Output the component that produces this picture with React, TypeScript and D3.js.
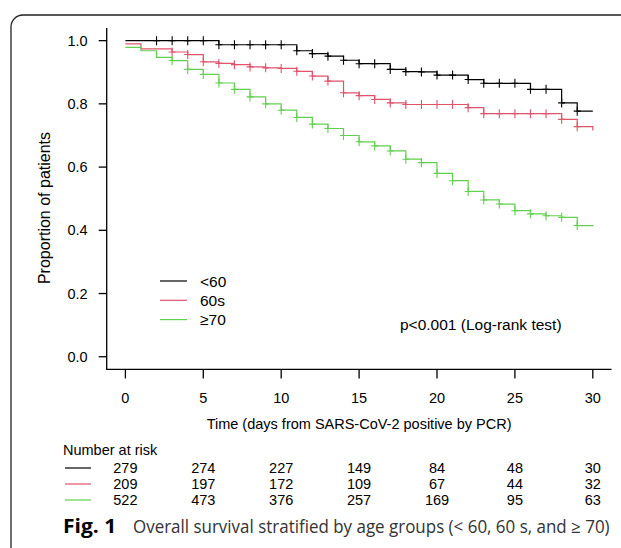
import React, { useLayoutEffect, useRef, useState } from "react";
import * as d3 from "d3";

const W = 621;
const H = 548;

// time points (days) and survival estimates
const days = [0, 1, 2, 3, 4, 5, 6, 7, 8, 9, 10, 11, 12, 13, 14, 15, 16, 17, 18, 19, 20, 21, 22, 23, 24, 25, 26, 27, 28, 29, 30];
const survUnder60 = [1.0, 1.0, 1.0, 1.0, 1.0, 1.0, 0.987, 0.987, 0.987, 0.987, 0.987, 0.968, 0.959, 0.951, 0.938, 0.927, 0.927, 0.909, 0.902, 0.901, 0.891, 0.891, 0.877, 0.865, 0.865, 0.865, 0.846, 0.846, 0.803, 0.777, 0.777];
const surv60s = [0.99, 0.974, 0.974, 0.964, 0.956, 0.933, 0.928, 0.924, 0.917, 0.914, 0.912, 0.903, 0.888, 0.872, 0.835, 0.826, 0.814, 0.803, 0.798, 0.798, 0.798, 0.798, 0.788, 0.769, 0.769, 0.769, 0.769, 0.769, 0.751, 0.728, 0.716];
const surv70 = [0.979, 0.968, 0.947, 0.937, 0.909, 0.893, 0.866, 0.846, 0.822, 0.8, 0.78, 0.757, 0.736, 0.722, 0.7, 0.68, 0.667, 0.651, 0.625, 0.614, 0.58, 0.557, 0.523, 0.496, 0.483, 0.462, 0.452, 0.446, 0.441, 0.415, 0.413];

// censoring marks (days)
const censUnder60 = [2, 3, 4, 5, 6, 7, 8, 9, 10, 11, 12, 13, 14, 15, 16, 17, 18, 19, 20, 21, 22, 23, 24, 25, 26, 27, 28, 29];
const cens60s = [3, 4, 5, 6, 7, 8, 9, 10, 11, 12, 13, 14, 15, 16, 17, 18, 19, 20, 21, 22, 23, 24, 25, 26, 27, 28, 29];
const cens70 = [3, 4, 5, 6, 7, 8, 9, 10, 11, 12, 13, 14, 15, 16, 17, 18, 19, 20, 21, 22, 23, 24, 25, 26, 27, 28, 29];

const groupNames = ["<60", "60s", "≥70"];
const groupColors = ["#000000", "#DF536B", "#61D04F"];

const xTicks = [0, 5, 10, 15, 20, 25, 30];
const yTicks = [0, 0.2, 0.4, 0.6, 0.8, 1.0];

const riskUnder60 = [279, 274, 227, 149, 84, 48, 30];
const risk60s = [209, 197, 172, 109, 67, 44, 32];
const risk70 = [522, 473, 376, 257, 169, 95, 63];

const font = "'Liberation Sans', Arial, sans-serif";
const capFont = "'Open Sans', 'Noto Sans', sans-serif";

const x = d3.scaleLinear().domain([-1.2, 31.2]).range([106.7, 611.5]);
const y = d3.scaleLinear().domain([-0.04, 1.04]).range([369.4, 28]);

const stepLine = d3
  .line<[number, number]>()
  .x((d) => x(d[0]))
  .y((d) => y(d[1]))
  .curve(d3.curveStepAfter);

const series = [
  { surv: survUnder60, cens: censUnder60, risk: riskUnder60 },
  { surv: surv60s, cens: cens60s, risk: risk60s },
  { surv: surv70, cens: cens70, risk: risk70 },
];

export default function App() {
  const left = x.range()[0];
  const bottom = y.range()[0];
  const top = y.range()[1];
  const right = x.range()[1];
  const riskRows = [468, 484, 500];

  // squeeze the caption (Myriad-like, narrow in the original) to its width
  const capRef = useRef<SVGTextElement>(null);
  const [capScale, setCapScale] = useState(1);
  useLayoutEffect(() => {
    if (capRef.current) {
      const len = capRef.current.getComputedTextLength();
      if (len > 0) setCapScale(Math.min(1, 477 / len));
    }
  }, []);

  return (
    <svg width={W} height={H} style={{ position: "absolute", left: 0, top: 0, background: "#fff" }}>
      {/* figure frame */}
      <path d="M 11 548 V 27 A 12 12 0 0 1 23 15 H 621" fill="none" stroke="#222" strokeWidth={1.3} />

      {/* axes */}
      <path d={`M ${left} ${top} V ${bottom} H ${right}`} fill="none" stroke="#000" strokeWidth={1.3} />
      {yTicks.map((t) => (
        <g key={"y" + t}>
          <line x1={left - 8} x2={left} y1={y(t)} y2={y(t)} stroke="#000" strokeWidth={1.3} />
          <text x={left - 19} y={y(t) + 5} textAnchor="end" fontFamily={font} fontSize={14.5}>
            {d3.format(".1f")(t)}
          </text>
        </g>
      ))}
      {xTicks.map((t) => (
        <g key={"x" + t}>
          <line x1={x(t)} x2={x(t)} y1={bottom} y2={bottom + 9} stroke="#000" strokeWidth={1.3} />
          <text x={x(t)} y={403} textAnchor="middle" fontFamily={font} fontSize={14.5}>
            {t}
          </text>
        </g>
      ))}
      <text x={(x(0) + x(30)) / 2} y={429} textAnchor="middle" fontFamily={font} fontSize={14.5}>
        Time (days from SARS-CoV-2 positive by PCR)
      </text>
      <text transform={`translate(50, 208) rotate(-90)`} textAnchor="middle" fontFamily={font} fontSize={16}>
        Proportion of patients
      </text>

      {/* survival curves */}
      {series.map((s, i) => {
        const pts = days.map((d, k) => [d, s.surv[k]] as [number, number]);
        const at = (t: number) => s.surv[days.indexOf(t)];
        return (
          <g key={"s" + i}>
            <path d={stepLine(pts) || ""} fill="none" stroke={groupColors[i]} strokeWidth={1.2} />
            {s.cens.map((c) => (
              <path
                key={c}
                d={`M ${x(c) - 3.5} ${y(at(c))} H ${x(c) + 3.5} M ${x(c)} ${y(at(c)) - 4.5} V ${y(at(c)) + 4.5}`}
                stroke={groupColors[i]}
                strokeWidth={1.1}
              />
            ))}
          </g>
        );
      })}

      {/* legend */}
      {groupNames.map((g, i) => (
        <g key={"l" + g}>
          <line x1={160} x2={187} y1={281 + i * 19.3} y2={281 + i * 19.3} stroke={groupColors[i]} strokeWidth={1.2} />
          <text x={200} y={286.5 + i * 19.3} fontFamily={font} fontSize={15.5}>
            {g}
          </text>
        </g>
      ))}
      <text x={400} y={329.5} fontFamily={font} fontSize={15.5}>
        p&lt;0.001 (Log-rank test)
      </text>

      {/* number at risk */}
      <text x={63} y={455} fontFamily={font} fontSize={14.5}>
        Number at risk
      </text>
      {series.map((s, i) => (
        <g key={"r" + i}>
          <line x1={65} x2={91} y1={riskRows[i]} y2={riskRows[i]} stroke={groupColors[i]} strokeWidth={1.2} />
          {s.risk.map((n, k) => (
            <text key={k} x={x(xTicks[k])} y={riskRows[i] + 5} textAnchor="middle" fontFamily={font} fontSize={14.5}>
              {n}
            </text>
          ))}
        </g>
      ))}

      {/* caption */}
      <g transform="translate(63, 533) scale(1.08, 1)">
        <text x={0} y={0} fontFamily={capFont} fontSize={19.5} fontWeight="bold">
          Fig. 1
        </text>
      </g>
      <g transform={`translate(133, 533) scale(${capScale}, 1)`}>
        <text ref={capRef} x={0} y={0} fontFamily={capFont} fontSize={17.5} fill="#333">
          Overall survival stratified by age groups (&lt; 60, 60 s, and ≥ 70)
        </text>
      </g>
    </svg>
  );
}
